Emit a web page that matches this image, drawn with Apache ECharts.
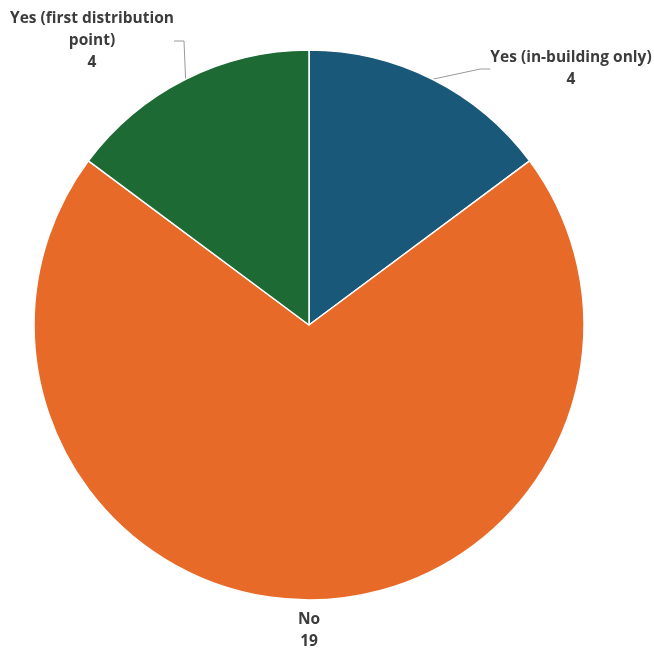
<!DOCTYPE html>
<html>
<head>
<meta charset="utf-8">
<script src="https://cdn.jsdelivr.net/npm/echarts@6/dist/echarts.min.js"></script>
<style>
html,body{margin:0;padding:0;background:#fff;}
#chart{width:654px;height:650px;}
</style>
</head>
<body>
<div id="chart"></div>
<script>
const categories = ['Yes (in-building only)', 'No', 'Yes (first distribution point)'];
const displayLabels = ['Yes (in-building only)', 'No', 'Yes (first distribution\npoint)'];
const values = [4, 19, 4];
const colors = ['#1a5879', '#e86a28', '#1e6a34'];

const labelPos = [
  {x: 571, y: 69, showLine: true},
  {x: 309, y: 631, showLine: false},
  {x: 92, y: 41, showLine: true}
];

const chart = echarts.init(document.getElementById('chart'));
chart.setOption({
  backgroundColor: '#fff',
  animation: false,
  series: [{
    type: 'pie',
    center: [309, 325],
    radius: 275,
    startAngle: 90,
    clockwise: true,
    data: categories.map((c, i) => ({
      name: c,
      value: values[i],
      itemStyle: {color: colors[i]},
      labelLine: {show: labelPos[i].showLine}
    })),
    itemStyle: {borderColor: '#ffffff', borderWidth: 1.5},
    label: {
      show: true,
      position: 'outside',
      formatter: p => displayLabels[p.dataIndex] + '\n' + p.value,
      color: '#3c3c3c',
      fontFamily: 'Open Sans',
      fontWeight: 'bold',
      fontSize: 15.5,
      lineHeight: 22,
      align: 'center',
      overflow: 'none'
    },
    labelLine: {
      lineStyle: {color: '#9a9a9a', width: 1},
      length: 20,
      length2: 10
    },
    labelLayout: p => ({
      x: labelPos[p.dataIndex].x,
      y: labelPos[p.dataIndex].y,
      align: 'center',
      verticalAlign: 'middle'
    })
  }]
});
</script>
</body>
</html>
